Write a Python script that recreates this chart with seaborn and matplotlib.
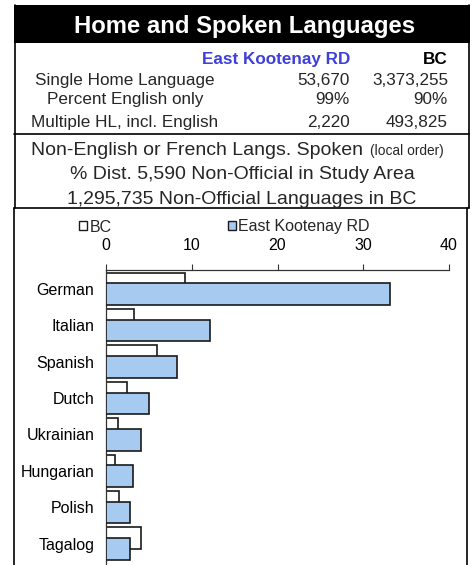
import matplotlib
matplotlib.use("Agg")
import matplotlib.pyplot as plt
from matplotlib.patches import Rectangle, Patch
from matplotlib.lines import Line2D
import seaborn as sns
import pandas as pd
import numpy as np

# ---- data ----
languages = ["German", "Italian", "Spanish", "Dutch", "Ukrainian", "Hungarian", "Polish", "Tagalog"]
ek_pct = [33.1, 12.1, 8.3, 5.0, 4.1, 3.2, 2.8, 2.75]
bc_pct = [9.2, 3.3, 6.0, 2.5, 1.4, 1.0, 1.55, 4.1]
series_names = ["BC", "East Kootenay RD"]
x_ticks = [0, 10, 20, 30, 40]

title = "Home and Spoken Languages"
table_rows = ["Single Home Language", "Percent English only", "Multiple HL, incl. English"]
table_ek = ["53,670", "99%", "2,220"]
table_bc = ["3,373,255", "90%", "493,825"]
sub_lines = ["Non-English or French Langs. Spoken",
             "% Dist. 5,590 Non-Official in Study Area",
             "1,295,735 Non-Official Languages in BC"]
sub_note = "(local order)"

# ---- style ----
sns.set_theme(style="white")
plt.rcParams["font.family"] = ["Liberation Sans", "DejaVu Sans"]

W, H = 474, 565
fig = plt.figure(figsize=(W / 100, H / 100), dpi=100)

def P(x, y):
    return (x / W, 1 - y / H)

BLUE = "#A6CAF0"
EDGE = "#1a1a1a"

# ---- chart ----
ax = fig.add_axes([106 / W, 0, (449 - 106) / W, (565 - 270) / H])
idx = np.arange(len(languages))
df_bc = pd.DataFrame({"pos": idx - 0.15, "val": bc_pct})
df_ek = pd.DataFrame({"pos": idx + 0.15, "val": ek_pct})
sns.barplot(data=df_bc, x="val", y="pos", orient="y", native_scale=True, width=0.59,
            color="white", saturation=1, edgecolor=EDGE, linewidth=1.2,
            errorbar=None, ax=ax, zorder=2)
sns.barplot(data=df_ek, x="val", y="pos", orient="y", native_scale=True, width=0.59,
            color=BLUE, saturation=1, edgecolor=EDGE, linewidth=1.2,
            errorbar=None, ax=ax, zorder=3)
ax.set_xlim(0, 40)
ax.set_ylim(7.59, -0.514)
ax.set_yticks(idx)
ax.set_yticklabels(languages)
ax.set_xticks(x_ticks)
ax.xaxis.tick_top()
ax.xaxis.set_label_position("top")
ax.set_xlabel("")
ax.set_ylabel("")
ax.tick_params(axis="x", direction="out", length=4, width=0.8, color="#333333",
               labelsize=11.5, pad=8, top=True, bottom=False, labelcolor="black")
ax.tick_params(axis="y", length=0, labelsize=11.5, pad=8.5, labelcolor="black")
for s in ["right", "bottom"]:
    ax.spines[s].set_visible(False)
for s in ["top", "left"]:
    ax.spines[s].set_color("#333333")
    ax.spines[s].set_linewidth(0.9)
ax.grid(False)
ax.set_facecolor("none")

handles = [Patch(facecolor="white", edgecolor=EDGE, linewidth=1.0),
           Patch(facecolor=BLUE, edgecolor=EDGE, linewidth=1.0)]
fig.legend(handles, series_names, loc="center left", bbox_to_anchor=P(79, 227),
           bbox_transform=fig.transFigure, ncol=2, frameon=False, fontsize=11.5,
           handlelength=0.5, handleheight=0.5, handletextpad=0.15, columnspacing=7.3,
           borderpad=0, borderaxespad=0)

# ---- header panel ----
x0, y0 = P(14, 43)
x1, y1 = P(470, 5)
fig.add_artist(Rectangle((x0, y0), x1 - x0, y1 - y0, transform=fig.transFigure,
                         facecolor="black", edgecolor="none"))
fig.text(*P(244.5, 33.5), title, color="white", fontsize=17.2, fontweight="bold",
         ha="center", va="baseline")

fig.text(*P(350, 64.3), "East Kootenay RD", color="#3F3FD9", fontsize=12.3,
         fontweight="bold", ha="right", va="baseline")
fig.text(*P(448, 64.3), "BC", color="black", fontsize=12.3, fontweight="bold",
         ha="right", va="baseline")
row_base = [85, 104, 126.7]
for lab, e, b, yb in zip(table_rows, table_ek, table_bc, row_base):
    fig.text(*P(125, yb), lab, fontsize=12.3, ha="center", va="baseline")
    fig.text(*P(350, yb), e, fontsize=12.3, ha="right", va="baseline")
    fig.text(*P(448, yb), b, fontsize=12.3, ha="right", va="baseline")

fig.text(*P(363, 155), sub_lines[0], fontsize=14, ha="right", va="baseline")
fig.text(*P(370, 155), sub_note, fontsize=9.9, ha="left", va="baseline")
fig.text(*P(242, 179), sub_lines[1], fontsize=14, ha="center", va="baseline")
fig.text(*P(242, 204), sub_lines[2], fontsize=14, ha="center", va="baseline")

def line(xa, ya, xb, yb, lw=1.2):
    (fx0, fy0), (fx1, fy1) = P(xa, ya), P(xb, yb)
    fig.add_artist(Line2D([fx0, fx1], [fy0, fy1], transform=fig.transFigure,
                          color="black", linewidth=lw))

line(14.5, 5, 14.5, 208)
line(469, 5, 469, 208)
line(14, 134, 469, 134)
line(13.5, 208, 469, 208)
line(13.5, 208, 13.5, 565)
line(466.5, 208, 466.5, 565)

fig.savefig("out.png", dpi=100)
